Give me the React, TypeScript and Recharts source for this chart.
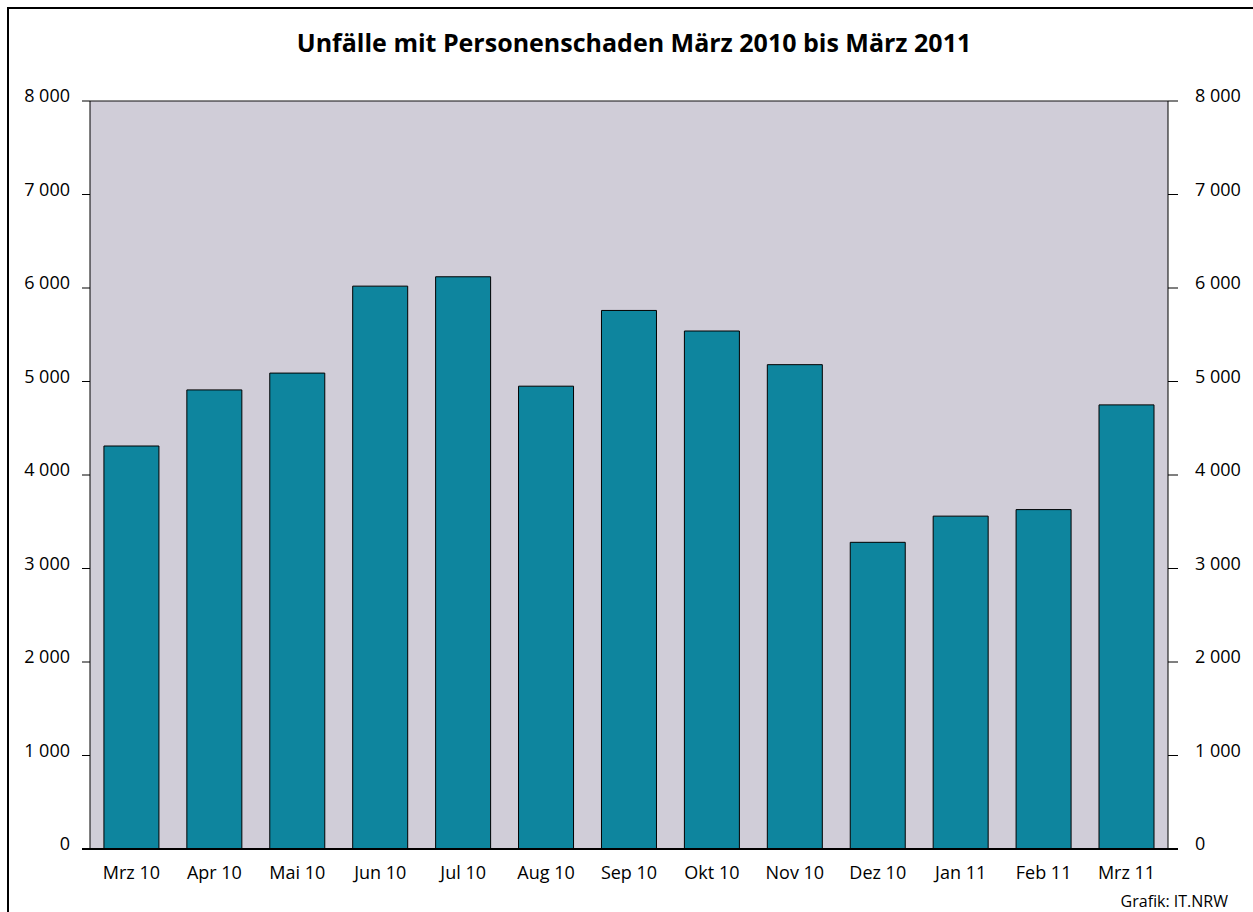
import React from 'react';
import { BarChart, Bar, XAxis, YAxis, CartesianGrid } from 'recharts';

const months = ['Mrz 10', 'Apr 10', 'Mai 10', 'Jun 10', 'Jul 10', 'Aug 10', 'Sep 10', 'Okt 10', 'Nov 10', 'Dez 10', 'Jan 11', 'Feb 11', 'Mrz 11'];
const accidents = [4310, 4910, 5090, 6020, 6120, 4950, 5760, 5540, 5180, 3280, 3560, 3630, 4750];
const yTicks = [0, 1000, 2000, 3000, 4000, 5000, 6000, 7000, 8000];

const title = 'Unfälle mit Personenschaden März 2010 bis März 2011';
const source = 'Grafik: IT.NRW';

const data = months.map((m, i) => ({ month: m, value: accidents[i] }));

const FONT = '"Open Sans", "Noto Sans", sans-serif';

const fmt = (v: number) => {
  const s = String(v);
  return s.length > 3 ? s.slice(0, s.length - 3) + ' ' + s.slice(s.length - 3) : s;
};

const LeftTick = (props: any) => {
  const { x, y, payload } = props;
  return (
    <g>
      <line x1={x + 12} x2={x + 20} y1={y} y2={y} stroke="#000" strokeWidth={payload.value === 0 ? 2 : 1} />
      <text x={x} y={y - 5} dy="0.355em" textAnchor="end" fill="#000" fontSize={18} fontFamily={FONT}>
        {fmt(payload.value)}
      </text>
    </g>
  );
};

const RightTick = (props: any) => {
  const { x, y, payload } = props;
  return (
    <g>
      <line x1={x - 27} x2={x - 17} y1={y} y2={y} stroke="#000" strokeWidth={payload.value === 0 ? 2 : 1} />
      <text x={x} y={y - 5} dy="0.355em" textAnchor="start" fill="#000" fontSize={18} fontFamily={FONT}>
        {fmt(payload.value)}
      </text>
    </g>
  );
};

export default function App() {
  return (
    <div style={{ position: 'absolute', left: 0, top: 0, width: 1253, height: 912, overflow: 'hidden', background: '#fff', fontFamily: FONT }}>
      <div style={{ position: 'absolute', left: 7, top: 7, width: 1300, height: 1000, borderTop: '2px solid #000', borderLeft: '2px solid #000' }} />
      <div style={{ position: 'absolute', left: 0, top: 0 }}>
        <BarChart width={1253} height={912} data={data} margin={{ top: 101, right: 25, bottom: 23, left: 30 }} barCategoryGap="16.8%">
          <CartesianGrid vertical={false} stroke="#111" strokeWidth={1} fill="#D0CDD8" fillOpacity={1} />
          <XAxis
            dataKey="month"
            height={40}
            tickLine={false}
            tickSize={0}
            tickMargin={17}
            axisLine={{ stroke: '#000', strokeWidth: 2 }}
            tick={{ fill: '#000', fontSize: 18, fontFamily: FONT }}
            interval={0}
          />
          <YAxis
            yAxisId="left"
            orientation="left"
            width={60}
            domain={[0, 8000]}
            ticks={yTicks}
            tickLine={false}
            tickSize={8}
            tickMargin={12}
            axisLine={{ stroke: '#000' }}
            tick={<LeftTick />}
            allowDataOverflow
          />
          <YAxis
            yAxisId="right"
            orientation="right"
            width={60}
            domain={[0, 8000]}
            ticks={yTicks}
            tickLine={false}
            tickSize={10}
            tickMargin={17}
            axisLine={{ stroke: '#000' }}
            tick={<RightTick />}
            allowDataOverflow
          />
          <Bar yAxisId="left" dataKey="value" fill="#0E859E" stroke="#000" strokeWidth={1} isAnimationActive={false} />
        </BarChart>
      </div>
      <div style={{ position: 'absolute', left: 0, width: 1268, top: 25, textAlign: 'center', fontSize: 25, fontWeight: 700, color: '#000', whiteSpace: 'nowrap' }}>
        {title}
      </div>
      <div style={{ position: 'absolute', right: 25, top: 890, fontSize: 16, color: '#000', whiteSpace: 'nowrap' }}>
        {source}
      </div>
    </div>
  );
}
